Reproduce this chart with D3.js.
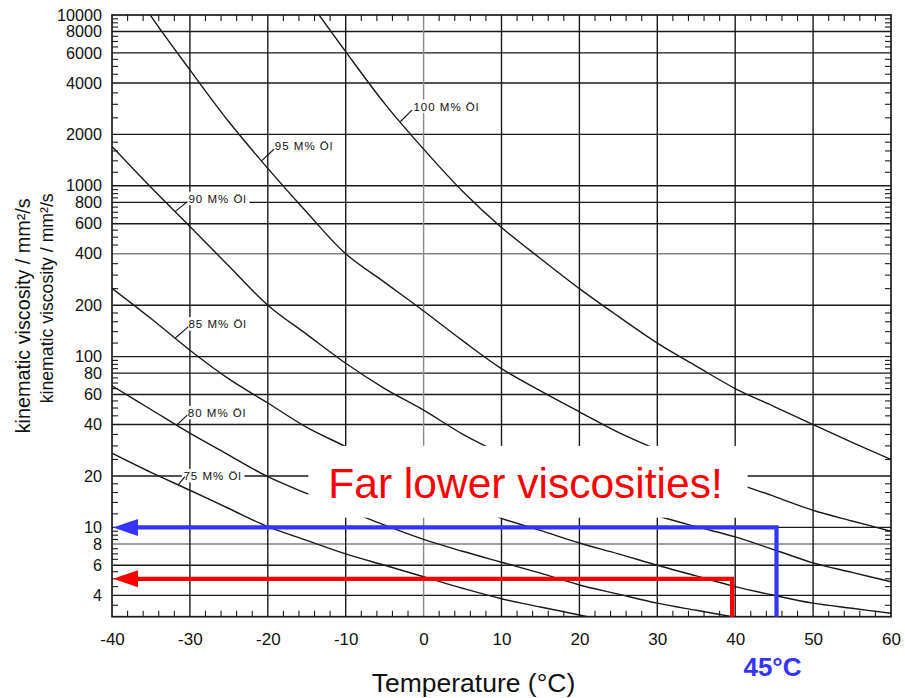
<!DOCTYPE html>
<html><head><meta charset="utf-8">
<script src="https://cdn.jsdelivr.net/npm/d3@7"></script>
<style>
body{margin:0;background:#fff}
svg{display:block}
text{font-family:"Liberation Sans",Arial,Helvetica,sans-serif}
</style>
</head><body>
<svg id="c" width="905" height="698"></svg>
<script>
// ---------- data ----------
const temps   = [-40,-35,-30,-25,-20,-15,-10,-5,0,5,10,15,20,25,30,35,40,45,50,55,60];
const visc100 = [null,null,null,null,null,12600,6100,3030,1640,930,570,375,250,172,120,88,65,51,40,31.5,25];
const visc95  = [22000,9850,4770,2370,1265,700,400,272,185,124,85,63,47.5,36,28.5,22.8,18.3,15.2,12.6,10.9,9.5];
const visc90  = [1700,980,577,339,200,135,91.4,65,48.6,35.2,27,21.5,17,14,11.7,10.1,8.8,7.4,6.2,5.45,4.8];
const visc85  = [251,167,109,74,53.5,38.5,29.7,22.5,17.8,14.2,11.3,9.6,8.1,7.0,6.0,5.2,4.5,4.0,3.6,3.36,3.14];
const visc80  = [67.5,49,35.6,26.5,19.8,15.8,12.7,10.3,8.5,7.25,6.25,5.4,4.6,4.07,3.6,3.27,2.98,2.7,null,null,null];
const visc75  = [27.2,21.0,16.5,12.9,10.1,8.4,7.0,6.0,5.14,4.4,3.82,3.42,3.07,2.75,null,null,null,null,null,null,null];
const seriesValues = [visc100, visc95, visc90, visc85, visc80, visc75];
const seriesNames  = ["100 M% Öl","95 M% Öl","90 M% Öl","85 M% Öl","80 M% Öl","75 M% Öl"];
const labelTemps   = [-3.0,-20.8,-31.9,-31.9,-31.7,-31.5];

const xTicks = [-40,-30,-20,-10,0,10,20,30,40,50,60];
const yTicks = [4,6,8,10,20,40,60,80,100,200,400,600,800,1000,2000,4000,6000,8000,10000];
const yMinorMult = [1.2,1.4,1.6,1.8,2.5,3,3.5,4.5,5,5.5,6.5,7,7.5,8.5,9,9.5];
const grayY = [400, 8];
const grayX = [0];

const yTitle = "kinematic viscosity / mm²/s";
const xTitle = "Temperature (°C)";
const blueT = 45.3, blueV = 10, blueLabel = "45°C";
const redT = 39.6, redV = 5;
const noteText = "Far lower viscosities!";
const noteBoxT = [-14.8, 41.6], noteBoxV = [30, 11.4];

// label leader geometry (pixels): [dx, dy, textDx, textDy]
const leaderGeom = [[11.7,-11.7,1.5,0.5],[12.3,-11.7,1,0.5],[12.3,-10,1,1],[13.3,-11.6,0,1.6],[10.6,-10,0.6,1.7],[6.7,-8.3,-1.5,3.3]];

// ---------- layout ----------
const L = 112, R = 891, T = 15, B = 616.7;
const svg = d3.select("#c");
const x = d3.scaleLinear().domain([-40, 60]).range([L, R]);
const y = d3.scaleLog().domain([3, 10000]).range([B, T]);
const ink = "#1a1a1a";

svg.append("defs").append("clipPath").attr("id","clip")
  .append("rect").attr("x",L).attr("y",T).attr("width",R-L).attr("height",B-T);

// gridlines
const grid = svg.append("g");
grid.selectAll("line.h").data(yTicks.filter(v => v < 10000)).join("line")
  .attr("x1",L).attr("x2",R).attr("y1",d=>y(d)).attr("y2",d=>y(d))
  .attr("stroke",d=>grayY.includes(d)?"#808080":ink).attr("stroke-width",1.4);
grid.selectAll("line.v").data(xTicks.filter(v => v>-40 && v<60)).join("line")
  .attr("y1",T).attr("y2",B).attr("x1",d=>x(d)).attr("x2",d=>x(d))
  .attr("stroke",d=>grayX.includes(d)?"#8a8a8a":ink).attr("stroke-width",1.4);

// minor ticks
const yMinor = [];
[1,10,100,1000].forEach(dec => yMinorMult.forEach(m => {
  const v = +(m*dec).toPrecision(6);
  if (v > 3 && v < 10000 && !yTicks.includes(v)) yMinor.push(v);
}));
const xMinor = d3.range(-38, 60, 2).filter(v => v % 10 !== 0);
const tk = svg.append("g").attr("stroke",ink).attr("stroke-width",1.1);
tk.selectAll("line.yl").data(yMinor).join("line")
  .attr("x1",L).attr("x2",L+6).attr("y1",d=>y(d)).attr("y2",d=>y(d));
tk.selectAll("line.yr").data(yMinor).join("line")
  .attr("x1",R).attr("x2",R-6).attr("y1",d=>y(d)).attr("y2",d=>y(d));
tk.selectAll("line.xb").data(xMinor).join("line")
  .attr("x1",d=>x(d)).attr("x2",d=>x(d)).attr("y1",B).attr("y2",B-6);
tk.selectAll("line.xt").data(xMinor).join("line")
  .attr("x1",d=>x(d)).attr("x2",d=>x(d)).attr("y1",T).attr("y2",T+6);

// frame
svg.append("rect").attr("x",L).attr("y",T).attr("width",R-L).attr("height",B-T)
  .attr("fill","none").attr("stroke",ink).attr("stroke-width",1.7);

// axes labels via d3 axes
const yAxis = svg.append("g").attr("transform",`translate(${L},0)`)
  .call(d3.axisLeft(y).tickValues(yTicks).tickFormat(d=>String(d)).tickSize(0).tickPadding(10));
yAxis.select(".domain").remove();
yAxis.selectAll("text").attr("font-size",16.2).attr("fill","#111")
  .attr("font-family","'Liberation Sans',Arial,sans-serif");

const xAxis = svg.append("g").attr("transform",`translate(0,${B})`)
  .call(d3.axisBottom(x).tickValues(xTicks).tickFormat(d=>String(d)).tickSize(0).tickPadding(16));
xAxis.select(".domain").remove();
xAxis.selectAll("text").attr("font-size",17).attr("fill","#111")
  .attr("font-family","'Liberation Sans',Arial,sans-serif");

// helper: log interpolation along a series (for label anchoring)
function valueAt(arr, t) {
  for (let i = 0; i < temps.length-1; i++) {
    if (t >= temps[i] && t <= temps[i+1] && arr[i] != null && arr[i+1] != null) {
      const f = (t - temps[i])/(temps[i+1]-temps[i]);
      return Math.pow(10, Math.log10(arr[i]) + f*(Math.log10(arr[i+1]) - Math.log10(arr[i])));
    }
  }
  return null;
}

// curve labels with white background
const lbl = svg.append("g");
const leaders = [];
seriesValues.forEach((arr, i) => {
  const t = labelTemps[i];
  const [ldx, ldy, tdx, tdy] = leaderGeom[i];
  const ax = x(t), ay = y(valueAt(arr, t));
  const ex = ax + ldx, ey = ay + ldy;
  leaders.push([ax, ay, ex, ey]);
  const g = lbl.append("g");
  const txt = g.append("text").attr("x", ex + tdx).attr("y", ey + tdy)
    .attr("font-size", 11.5).attr("letter-spacing", 1).attr("fill", "#111")
    .text(seriesNames[i]);
  const bb = txt.node().getBBox();
  g.insert("rect","text").attr("x",bb.x-1.5).attr("y",bb.y-1).attr("width",bb.width+4).attr("height",bb.height+1.5)
    .attr("fill","#fff");
});

// curves
const line = d3.line().defined(d => d.v != null)
  .x(d => x(d.t)).y(d => y(d.v)).curve(d3.curveCatmullRom.alpha(0.5));
svg.append("g").attr("clip-path","url(#clip)")
  .selectAll("path").data(seriesValues).join("path")
  .attr("d", arr => line(temps.map((t,i)=>({t, v: arr[i]}))))
  .attr("fill","none").attr("stroke","#1a1a1a").attr("stroke-width",1.4);

// leader lines
svg.append("g").selectAll("line").data(leaders).join("line")
  .attr("x1",d=>d[0]).attr("y1",d=>d[1]).attr("x2",d=>d[2]).attr("y2",d=>d[3])
  .attr("stroke","#1a1a1a").attr("stroke-width",1.2);

// note box
const bx0 = x(noteBoxT[0]), bx1 = x(noteBoxT[1]), by0 = y(noteBoxV[0]), by1 = y(noteBoxV[1]);
svg.append("rect").attr("x",bx0).attr("y",by0).attr("width",bx1-bx0).attr("height",by1-by0).attr("fill","#fff");
svg.append("text").attr("x",bx0+20).attr("y",by1-20).attr("font-size",42.5).attr("fill","#ff0000")
  .text(noteText);

// arrows
function arrow(t, v, color) {
  const g = svg.append("g");
  const xv = x(t), yv = y(v), x0 = x(-40);
  g.append("path").attr("d",`M${xv},${B} L${xv},${yv} L${x0+24},${yv}`)
    .attr("fill","none").attr("stroke",color).attr("stroke-width",4.2).attr("stroke-linejoin","miter");
  g.append("path").attr("d",`M${x0+1},${yv} L${x0+26},${yv-8.5} L${x0+26},${yv+8.5} Z`).attr("fill",color);
}
arrow(blueT, blueV, "#3535ff");
arrow(redT, redV, "#ff0000");

svg.append("text").attr("x",x(blueT)-4).attr("y",676).attr("text-anchor","middle")
  .attr("font-size",26).attr("font-weight","bold").attr("fill","#3535ff").text(blueLabel);

// axis titles
svg.append("text").attr("x",473.5).attr("y",692).attr("text-anchor","middle")
  .attr("font-size",26.5).attr("fill","#111").text(xTitle);
svg.append("text").attr("transform","translate(30,315.8) rotate(-90)").attr("text-anchor","middle")
  .attr("font-size",19.5).attr("fill","#111").attr("textLength",235).attr("lengthAdjust","spacingAndGlyphs").text(yTitle);
svg.append("text").attr("transform","translate(53,298.3) rotate(-90)").attr("text-anchor","middle")
  .attr("font-size",17.5).attr("fill","#111").attr("textLength",210).attr("lengthAdjust","spacingAndGlyphs").text(yTitle);
</script>
</body></html>
